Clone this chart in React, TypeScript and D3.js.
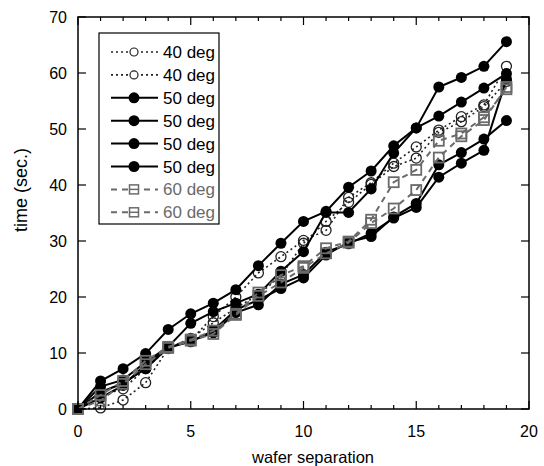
import React, { useRef, useEffect } from 'react';
import * as d3 from 'd3';

// wafer separation, 0..19
const separation = d3.range(0, 20);

// 40 deg runs (open circles, dotted)
const deg40a = [0, 0.2, 1.6, 4.7, 10.8, 12.3, 16.5, 20.0, 24.3, 27.2, 30.1, 31.9, 37.8, 40.4, 43.9, 46.8, 49.8, 52.2, 54.3, 61.2];
const deg40b = [0, 2.4, 3.6, 7.2, 10.9, 12.6, 15.4, 18.0, 20.4, 23.8, 29.6, 33.5, 36.9, 40.1, 43.3, 44.8, 49.4, 51.3, 54.0, 58.5];

// 50 deg runs (filled circles, solid)
const deg50a = [0, 5.0, 7.2, 9.9, 14.2, 17.0, 18.9, 21.3, 25.6, 29.6, 33.5, 35.3, 39.6, 42.5, 47.0, 50.2, 57.5, 59.2, 61.2, 65.6];
const deg50b = [0, 4.0, 5.2, 8.4, 11.1, 15.3, 17.4, 18.9, 20.5, 24.6, 28.1, 35.1, 35.1, 39.3, 45.7, 50.2, 52.3, 54.8, 57.3, 59.9];
const deg50c = [0, 3.0, 4.6, 7.2, 11.0, 12.0, 14.0, 17.7, 19.5, 21.5, 23.4, 27.5, 29.8, 30.8, 34.3, 36.7, 43.6, 45.8, 48.2, 51.5];
const deg50d = [0, 2.0, 4.2, 8.0, 10.9, 12.2, 13.6, 17.2, 18.6, 22.3, 24.0, 28.0, 29.5, 31.4, 34.1, 36.0, 41.4, 43.9, 46.2, 58.9];

// 60 deg runs (open squares, dashed)
const deg60a = [0, 2.5, 5.0, 8.6, 11.1, 12.4, 14.0, 17.0, 20.8, 23.9, 25.5, 28.7, 29.9, 33.8, 40.5, 42.7, 47.9, 49.2, 52.1, 57.1];
const deg60b = [0, 1.5, 4.5, 8.0, 10.9, 12.2, 13.4, 16.8, 20.2, 22.6, 25.2, 27.8, 29.7, 33.2, 35.8, 39.1, 44.9, 48.7, 51.6, 57.5];

const legendLabels = ['40 deg', '40 deg', '50 deg', '50 deg', '50 deg', '50 deg', '60 deg', '60 deg'];

const xTicks = [0, 5, 10, 15, 20];
const yTicks = [0, 10, 20, 30, 40, 50, 60, 70];

type Style = { kind: 'open' | 'filled' | 'square'; color: string; dash: string; width: number };

const styles: Record<string, Style> = {
  '40': { kind: 'open', color: '#222', dash: '2,3', width: 1.6 },
  '50': { kind: 'filled', color: '#000', dash: '', width: 2 },
  '60': { kind: 'square', color: '#6a6a6a', dash: '6,5', width: 2 },
};

const App = () => {
  const ref = useRef<SVGSVGElement | null>(null);

  useEffect(() => {
    if (!ref.current) return;
    const width = 544, height = 466;
    const margin = { top: 17, right: 15, bottom: 57, left: 78 };

    const svg = d3.select(ref.current);
    svg.selectAll('*').remove();

    const x = d3.scaleLinear().domain([0, 20]).range([margin.left, width - margin.right]);
    const y = d3.scaleLinear().domain([0, 70]).range([height - margin.bottom, margin.top]);

    const font = 'Liberation Sans, Arial, sans-serif';

    const series = [
      { values: deg40a, st: styles['40'] },
      { values: deg40b, st: styles['40'] },
      { values: deg50a, st: styles['50'] },
      { values: deg50b, st: styles['50'] },
      { values: deg50c, st: styles['50'] },
      { values: deg50d, st: styles['50'] },
      { values: deg60a, st: styles['60'] },
      { values: deg60b, st: styles['60'] },
    ];

    const line = d3.line<number>()
      .x((_, i) => x(separation[i]))
      .y(d => y(d));

    const drawMarker = (g: any, kind: string, color: string, cx: number, cy: number) => {
      if (kind === 'filled') {
        g.append('circle').attr('cx', cx).attr('cy', cy).attr('r', 5.5).attr('fill', '#000');
      } else if (kind === 'open') {
        g.append('circle').attr('cx', cx).attr('cy', cy).attr('r', 5)
          .attr('fill', 'none').attr('stroke', color).attr('stroke-width', 1.3);
      } else {
        g.append('rect').attr('x', cx - 5).attr('y', cy - 5).attr('width', 10).attr('height', 10)
          .attr('fill', 'none').attr('stroke', color).attr('stroke-width', 1.8);
      }
    };

    const plot = svg.append('g');
    series.forEach(s => {
      plot.append('path')
        .attr('d', line(s.values))
        .attr('fill', 'none')
        .attr('stroke', s.st.color)
        .attr('stroke-width', s.st.width)
        .attr('stroke-dasharray', s.st.dash || null);
      s.values.forEach((v, i) => drawMarker(plot, s.st.kind, s.st.color, x(separation[i]), y(v)));
    });

    // frame
    svg.append('rect')
      .attr('x', x(0)).attr('y', y(70))
      .attr('width', x(20) - x(0)).attr('height', y(0) - y(70))
      .attr('fill', 'none').attr('stroke', '#000').attr('stroke-width', 1.5);

    // ticks on all four sides, pointing inward
    const tg = svg.append('g').attr('stroke', '#000').attr('stroke-width', 1.2);
    d3.range(0, 21).forEach(t => {
      const len = t % 5 === 0 ? 8 : 4;
      tg.append('line').attr('x1', x(t)).attr('x2', x(t)).attr('y1', y(0)).attr('y2', y(0) - len);
      tg.append('line').attr('x1', x(t)).attr('x2', x(t)).attr('y1', y(70)).attr('y2', y(70) + len);
    });
    yTicks.forEach(t => {
      tg.append('line').attr('x1', x(0)).attr('x2', x(0) + 8).attr('y1', y(t)).attr('y2', y(t));
      tg.append('line').attr('x1', x(20)).attr('x2', x(20) - 8).attr('y1', y(t)).attr('y2', y(t));
    });

    svg.append('g').selectAll('text').data(xTicks).enter().append('text')
      .attr('x', d => x(d)).attr('y', y(0) + 28)
      .attr('text-anchor', 'middle')
      .attr('font-family', font).attr('font-size', 16)
      .text(d => d);

    svg.append('g').selectAll('text').data(yTicks).enter().append('text')
      .attr('x', x(0) - 11).attr('y', d => y(d) + 6)
      .attr('text-anchor', 'end')
      .attr('font-family', font).attr('font-size', 16)
      .text(d => d);

    svg.append('text')
      .attr('x', 313).attr('y', height - 3)
      .attr('text-anchor', 'middle')
      .attr('font-family', font).attr('font-size', 16.5)
      .text('wafer separation');

    svg.append('text')
      .attr('transform', 'translate(27,190) rotate(-90)')
      .attr('text-anchor', 'middle')
      .attr('font-family', font).attr('font-size', 18)
      .text('time (sec.)');

    // legend
    const lg = svg.append('g');
    lg.append('rect')
      .attr('x', 99).attr('y', 33).attr('width', 120).attr('height', 191)
      .attr('fill', '#fff').attr('stroke', '#000').attr('stroke-width', 1.2);
    series.forEach((s, i) => {
      const cy = 52 + i * 22.9;
      lg.append('line')
        .attr('x1', 111).attr('x2', 158).attr('y1', cy).attr('y2', cy)
        .attr('stroke', s.st.color).attr('stroke-width', s.st.width)
        .attr('stroke-dasharray', s.st.dash || null);
      if (s.st.kind !== 'filled') {
        lg.append('rect').attr('x', 128).attr('y', cy - 6).attr('width', 12).attr('height', 12).attr('fill', '#fff');
      }
      if (s.st.kind === 'open') {
        lg.append('circle').attr('cx', 134).attr('cy', cy).attr('r', 4)
          .attr('fill', 'none').attr('stroke', s.st.color).attr('stroke-width', 1.2);
      } else if (s.st.kind === 'filled') {
        lg.append('circle').attr('cx', 134).attr('cy', cy).attr('r', 5.5).attr('fill', '#000');
      } else {
        lg.append('line').attr('x1', 129.5).attr('x2', 138.5).attr('y1', cy).attr('y2', cy)
          .attr('stroke', s.st.color).attr('stroke-width', 1.5);
        lg.append('rect').attr('x', 129.5).attr('y', cy - 4.5).attr('width', 9).attr('height', 9)
          .attr('fill', 'none').attr('stroke', s.st.color).attr('stroke-width', 1.5);
      }
      lg.append('text')
        .attr('x', 163).attr('y', cy + 6)
        .attr('font-family', font).attr('font-size', 17)
        .attr('fill', s.st.kind === 'square' ? '#6a6a6a' : '#000')
        .text(legendLabels[i]);
    });
  }, []);

  return <svg ref={ref} width={544} height={466} style={{ position: 'absolute', left: 0, top: 0 }} />;
};

export default App;
